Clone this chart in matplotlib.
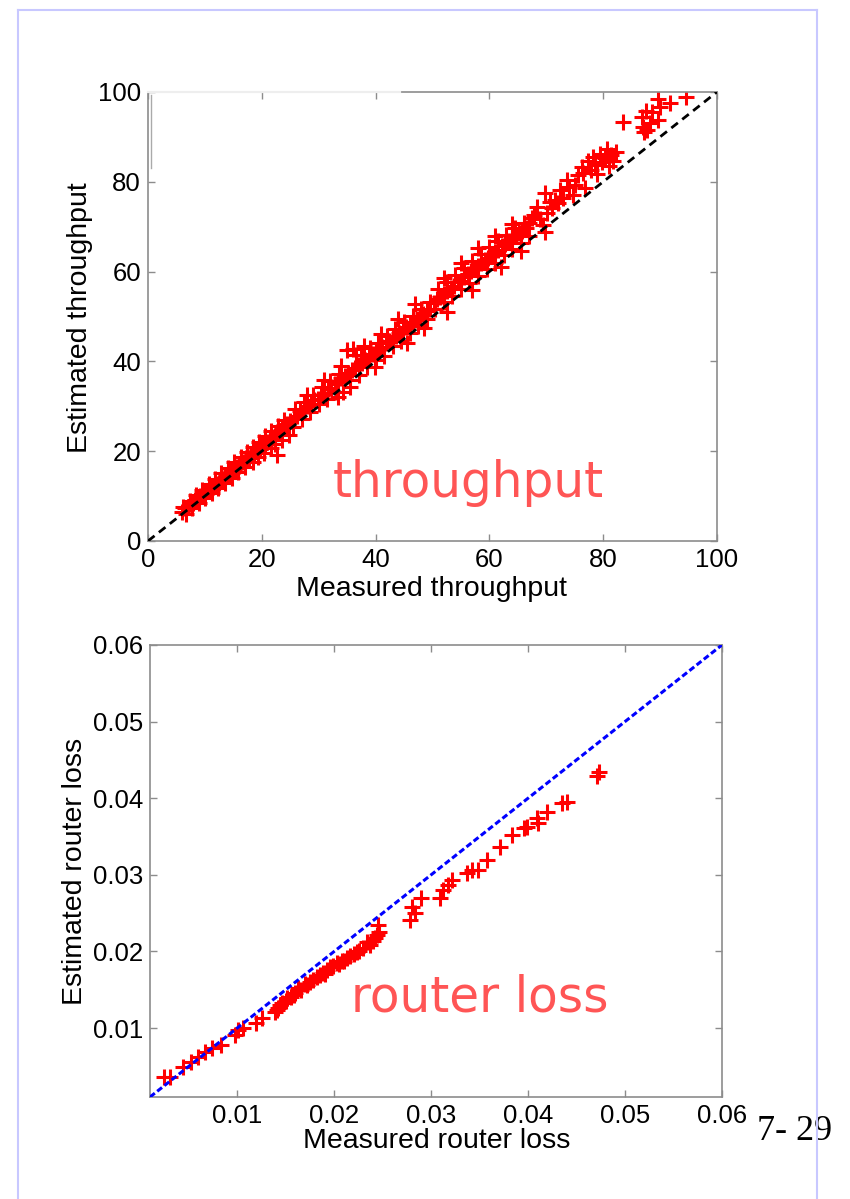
import matplotlib
matplotlib.use("Agg")
import matplotlib.pyplot as plt
from matplotlib.lines import Line2D

plt.rcParams['font.family'] = ['Liberation Sans', 'DejaVu Sans']

# throughput: measured vs estimated
meas_tp = [
    6.0, 6.5, 7.0, 7.4, 7.9, 8.3, 8.8, 9.2, 9.7, 10.1,
    10.6, 11.0, 11.5, 11.9, 12.4, 12.8, 13.3, 13.7, 14.2, 14.6,
    15.1, 15.5, 16.0, 16.4, 16.9, 17.3, 17.8, 18.2, 18.7, 19.1,
    19.6, 20.0, 20.5, 20.9, 21.4, 21.8, 22.3, 22.7, 23.2, 23.6, 24.1, 24.5,
    6.2, 7.3, 8.5, 9.5, 10.7, 11.8, 12.9, 14.0, 15.2, 16.3, 17.4, 18.5, 19.5, 20.6, 21.7, 22.8, 23.9,
    6.7, 7.7, 8.9, 10.0, 11.2, 12.3, 13.5, 14.8, 15.9, 17.0, 18.4, 19.3, 20.4, 21.6, 22.4, 23.5, 24.8,
    25.0, 25.6, 26.2, 26.8, 27.4, 28.0, 28.6, 29.2, 29.8, 30.4,
    31.0, 31.6, 32.2, 32.8, 33.4, 34.0, 34.6, 35.2, 35.8, 36.4,
    37.0, 37.6, 38.2, 38.8, 39.4, 40.0, 40.6, 41.2, 41.8, 42.4,
    43.0, 43.6, 44.2, 44.8, 45.4, 46.0, 46.6, 47.2, 47.8, 48.4, 49.0, 49.6,
    25.8, 27.5, 29.0, 30.5, 32.0, 33.5, 35.0, 36.0, 36.5, 37.5, 39.0, 40.5, 42.0, 43.5, 45.0, 46.5, 48.0, 49.5,
    25.5, 27.0, 28.5, 30.0, 31.5, 33.0, 34.2, 35.5, 37.0, 38.5, 40.0, 41.5, 43.0, 44.5, 46.0, 47.5, 49.0,
    50.2, 50.8, 51.4, 52.0, 52.6, 53.2, 53.8, 54.4, 55.0, 55.6,
    56.2, 56.8, 57.4, 58.0, 58.6, 59.2, 59.8, 60.4, 61.0, 61.6,
    62.2, 62.8, 63.4, 64.0, 64.6, 65.2, 65.8, 66.4,
    51.0, 52.5, 54.0, 55.5, 57.0, 58.5, 60.0, 61.5, 63.0, 64.5, 66.0, 67.5,
    50.5, 52.0, 53.5, 55.0, 56.5, 58.0, 59.5, 61.0, 62.5, 64.0, 65.5, 67.0,
    28.0, 31.0, 34.0, 38.0, 41.0, 44.0, 47.0, 52.0, 55.0, 58.0, 61.0, 64.0,
    22.7, 33.4, 35.5, 39.9, 45.5, 48.5, 52.5, 57.0, 62.0, 65.5,
    67.0, 67.8, 68.4, 68.9, 69.4, 69.8, 70.1, 69.8, 70.6, 71.0,
    71.5, 72.4, 72.0, 73.0, 73.6, 74.0, 74.7, 75.0, 75.6, 76.2,
    76.8, 76.5, 77.3, 77.8, 78.2, 78.6, 79.0, 79.5, 79.8, 80.3,
    80.7, 81.0, 81.4, 81.8, 82.2,
    83.5, 86.8, 87.0, 87.2, 87.5, 87.7, 88.6, 88.2, 89.6, 89.6, 90.0, 91.7, 94.6,
]
est_tp = [
    6.5, 7.3, 7.6, 8.2, 8.5, 9.2, 9.4, 10.1, 10.3, 11.0,
    11.2, 11.9, 12.1, 12.8, 13.0, 13.7, 13.9, 14.7, 14.8, 15.6,
    15.8, 16.5, 16.6, 17.5, 17.6, 18.4, 18.5, 19.4, 19.5, 20.3,
    20.4, 21.3, 21.4, 22.1, 22.4, 23.2, 23.3, 24.2, 24.3, 25.1, 25.3, 26.0,
    7.6, 9.0, 10.3, 11.4, 12.6, 13.9, 15.1, 16.2, 17.5, 18.7, 19.8, 21.0, 22.1, 23.3, 24.5, 25.7, 26.9,
    6.0, 7.3, 8.4, 9.5, 10.6, 11.8, 12.9, 14.0, 15.3, 16.4, 17.6, 18.6, 19.7, 20.8, 21.5, 22.4, 23.6,
    26.8, 27.5, 27.9, 28.9, 29.3, 30.1, 30.4, 31.3, 31.7, 32.5,
    32.8, 33.8, 34.1, 35.0, 35.3, 36.2, 36.8, 37.4, 38.0, 38.6,
    39.2, 39.7, 40.4, 41.0, 41.6, 42.1, 42.8, 43.3, 44.0, 44.6,
    45.2, 45.7, 46.4, 47.0, 47.6, 48.1, 48.8, 49.4, 50.0, 50.6, 51.2, 51.7,
    29.4, 31.0, 32.6, 34.2, 35.6, 37.3, 42.6, 42.8, 41.4, 41.5, 42.9, 44.2, 45.6, 47.2, 48.7, 50.1, 51.7, 53.3,
    25.4, 27.2, 28.7, 30.4, 31.6, 33.2, 33.1, 35.9, 37.0, 38.8, 40.2, 41.3, 43.4, 44.6, 46.3, 47.8, 49.4,
    53.0, 53.9, 54.3, 55.1, 55.6, 56.4, 56.8, 57.6, 58.0, 58.9,
    59.4, 60.1, 60.7, 61.3, 61.9, 62.6, 63.1, 63.8, 64.4, 64.9,
    65.6, 66.1, 66.7, 67.4, 67.9, 68.6, 69.1, 69.7,
    56.2, 57.6, 59.2, 60.8, 62.3, 63.9, 65.4, 66.7, 68.2, 69.8, 70.9, 72.0,
    51.6, 53.2, 54.6, 56.1, 57.5, 59.0, 60.6, 62.0, 63.7, 65.1, 66.4, 67.9,
    32.5, 35.8, 39.0, 43.5, 46.0, 49.5, 52.8, 58.5, 61.8, 65.2, 68.0, 70.5,
    19.2, 32.1, 34.3, 38.8, 44.0, 47.5, 51.0, 56.0, 61.0, 64.5,
    70.9, 72.6, 74.4, 71.8, 70.3, 77.5, 73.0, 68.8, 75.4, 74.2,
    76.0, 78.2, 75.3, 76.4, 80.4, 78.8, 77.1, 79.3, 81.5, 83.2,
    78.6, 82.0, 84.6, 82.6, 85.5, 83.8, 81.7, 86.2, 84.4, 85.3,
    87.4, 83.5, 86.0, 84.6, 86.6,
    93.3, 94.5, 92.3, 91.0, 95.7, 91.6, 95.5, 93.1, 93.8, 98.4, 96.6, 97.5, 98.9,
]

# router loss: measured vs estimated
meas_loss = [
    0.0024, 0.0031, 0.0044, 0.0052, 0.0060, 0.0067, 0.0074, 0.0083, 0.0098, 0.0101,
    0.0106, 0.0119, 0.0126, 0.0139, 0.0141, 0.0142, 0.0144, 0.0146, 0.0150, 0.0151,
    0.0155, 0.0158, 0.0160, 0.0163, 0.0166, 0.0170, 0.0172, 0.0175, 0.0178, 0.0182,
    0.0185, 0.0188, 0.0190, 0.0193, 0.0196, 0.0199, 0.0203, 0.0205, 0.0208, 0.0210,
    0.0213, 0.0216, 0.0220, 0.0223, 0.0226, 0.0230, 0.0234, 0.0237, 0.0240, 0.0242,
    0.0244, 0.0245, 0.0246, 0.0278, 0.0283, 0.0280, 0.0290, 0.0309, 0.0312, 0.0317,
    0.0322, 0.0337, 0.0342, 0.0348, 0.0358, 0.0371, 0.0383, 0.0396, 0.0399, 0.0409,
    0.0410, 0.0420, 0.0435, 0.0440, 0.0471, 0.0473,
]
est_loss = [
    0.0036, 0.0036, 0.0049, 0.0056, 0.0062, 0.0069, 0.0074, 0.0078, 0.0091, 0.0097,
    0.0100, 0.0107, 0.0113, 0.0121, 0.0124, 0.0126, 0.0130, 0.0133, 0.0135, 0.0139,
    0.0140, 0.0143, 0.0146, 0.0152, 0.0150, 0.0158, 0.0156, 0.0160, 0.0163, 0.0167,
    0.0169, 0.0172, 0.0170, 0.0176, 0.0179, 0.0181, 0.0185, 0.0183, 0.0188, 0.0187,
    0.0191, 0.0194, 0.0197, 0.0199, 0.0201, 0.0204, 0.0212, 0.0208, 0.0214, 0.0218,
    0.0221, 0.0234, 0.0225, 0.0241, 0.0250, 0.0258, 0.0270, 0.0270, 0.0280, 0.0287,
    0.0293, 0.0302, 0.0306, 0.0306, 0.0319, 0.0336, 0.0352, 0.0361, 0.0362, 0.0374,
    0.0368, 0.0382, 0.0394, 0.0395, 0.0429, 0.0434,
]

tp_ticks = [0, 20, 40, 60, 80, 100]
loss_ticks = [0.01, 0.02, 0.03, 0.04, 0.05, 0.06]
loss_lim = (0.001, 0.06)

fig = plt.figure(figsize=(8.5, 11.99), dpi=100)

grey = '#8c8c8c'


def style(ax):
    for s in ax.spines.values():
        s.set_color(grey)
        s.set_linewidth(1.2)
    ax.tick_params(direction='in', length=5, width=1, colors=grey,
                   labelcolor='black', labelsize=18.5, top=True, right=True, pad=5)


# --- throughput panel ---
ax1 = fig.add_axes([0.1741, 0.5488, 0.6694, 0.3745])
ax1.plot([0, 100], [0, 100], color='black', ls=(0, (3, 2)), lw=2, zorder=3)
ax1.plot(meas_tp, est_tp, '+', color='red', ms=11, mew=2.2, zorder=2)
ax1.set_xlim(0, 100)
ax1.set_ylim(0, 100)
ax1.set_xticks(tp_ticks)
ax1.set_yticks(tp_ticks)
style(ax1)
ax1.set_xlabel('Measured throughput', fontsize=20.5)
ax1.set_ylabel('Estimated throughput', fontsize=20.5)
ax1.xaxis.set_label_coords(0.499, -0.078)
ax1.yaxis.set_label_coords(-0.097, 0.497)
# faint top edge and stray stroke in the upper-left corner
ax1.plot([0, 0.443], [1, 1], color='#eeeeee', lw=1.6, transform=ax1.transAxes,
         clip_on=False, zorder=5)
ax1.plot([0.005, 0.005], [0.993, 0.83], color='#aaaaaa', lw=1, transform=ax1.transAxes,
         clip_on=False, zorder=5)
fig.text(468 / 850, 1 - 483 / 1199, 'throughput', color='#ff5555', fontsize=35,
         family='DejaVu Sans', ha='center', va='center')

# --- router loss panel ---
ax2 = fig.add_axes([0.1765, 0.0851, 0.6729, 0.377])
ax2.plot(loss_lim, loss_lim, color='blue', ls=(0, (2, 1)), lw=2.2, zorder=3)
ax2.plot(meas_loss, est_loss, '+', color='red', ms=11, mew=2.2, zorder=2)
ax2.set_xlim(*loss_lim)
ax2.set_ylim(*loss_lim)
ax2.set_xticks(loss_ticks)
ax2.set_yticks(loss_ticks)
ax2.set_xticklabels([f'{t:.2f}' for t in loss_ticks])
ax2.set_yticklabels([f'{t:.2f}' for t in loss_ticks])
style(ax2)
ax2.set_xlabel('Measured router loss', fontsize=20.5)
ax2.set_ylabel('Estimated router loss', fontsize=20.5)
ax2.xaxis.set_label_coords(0.501, -0.068)
ax2.yaxis.set_label_coords(-0.108, 0.498)
fig.text(480 / 850, 1 - 997 / 1199, 'router loss', color='#ff5555', fontsize=35,
         family='DejaVu Sans', ha='center', va='center')

# slide frame and page number
frame = '#c8c8ff'
fig.add_artist(Line2D([18 / 850, 18 / 850], [0, 1 - 10 / 1199], color=frame, lw=1.5))
fig.add_artist(Line2D([817 / 850, 817 / 850], [0, 1 - 10 / 1199], color=frame, lw=1.5))
fig.add_artist(Line2D([18 / 850, 817 / 850], [1 - 10 / 1199, 1 - 10 / 1199], color=frame, lw=1.5))
fig.text(757 / 850, 1 - 1140 / 1199, '7- 29', fontsize=26, family='Liberation Serif',
         ha='left', va='baseline', zorder=1)

fig.savefig('out.png', dpi=100)
